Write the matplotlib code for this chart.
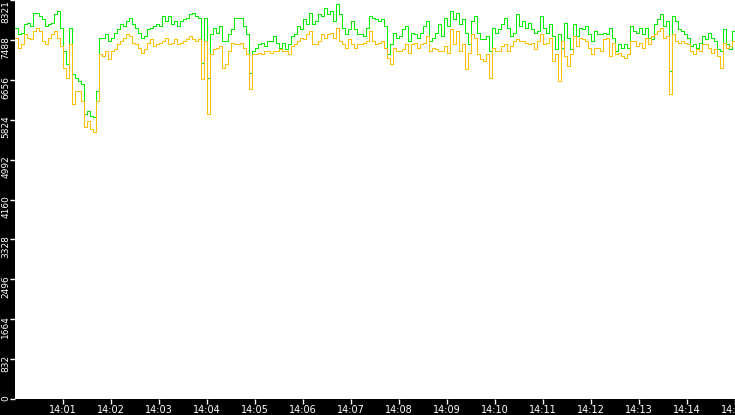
import matplotlib

matplotlib.use("Agg")
import matplotlib.pyplot as plt
import matplotlib.transforms as mtransforms
import numpy as np

# one sample every 3.75 s, 14:00:00 -> 14:15:00
STEP_S = 3.75

GREEN = [
    # 14:00 - 14:02
    7744, 7606, 7640, 7814, 7848, 7779, 8056, 8056, 7987, 7918,
    7779, 7814, 7848, 8022, 8091, 7744, 7259, 6982, 7744, 6774,
    6704, 6635, 6566, 5942, 6011, 5907, 5872, 6427, 7536, 7536,
    7606, 7467, 7536, 7640, 7710,
    # 14:02 - 14:04
    7814, 7779, 7883, 7952, 7814, 7744, 7640, 7536, 7571, 7710,
    7744, 7779, 7814, 7779, 7987, 7883, 7987, 7814, 7883, 7779,
    7883, 7918, 7952, 8022, 8056, 7987, 7952, 7016, 7952, 6704,
    7606, 7744, 7640, 7779, 7467,
    # 14:04 - 14:06
    7467, 7606, 7710, 7952, 7952, 7952, 7779, 7606, 6808, 7259,
    7328, 7398, 7432, 7363, 7467, 7467, 7571, 7432, 7328, 7432,
    7294, 7398, 7571, 7606, 7779, 7710, 7918, 7814, 8056, 7814,
    7883, 8022, 7987, 8160, 8022,
    # 14:06 - 14:08
    8091, 7883, 8230, 8022, 7744, 7606, 7710, 7883, 7710, 7606,
    7606, 7571, 7744, 7987, 7952, 7918, 7883, 7918, 7779, 7190,
    7398, 7640, 7536, 7571, 7710, 7779, 7467, 7640, 7606, 7536,
    7640, 7779, 7883, 7467, 7536,
    # 14:08 - 14:10
    7640, 7814, 7571, 7952, 7779, 8091, 7918, 8056, 7814, 7918,
    7640, 7398, 7883, 7987, 7640, 7502, 7502, 7571, 7259, 7744,
    7640, 7710, 7814, 7952, 7744, 7571, 7640, 8022, 7779, 7883,
    7744, 7848, 7710, 7640, 7675,
    # 14:10 - 14:12
    7987, 7744, 7640, 7814, 7571, 7294, 7606, 7328, 7848, 7536,
    7294, 7814, 7571, 7744, 7710, 7779, 7606, 7467, 7675, 7606,
    7606, 7640, 7606, 7744, 7536, 7259, 7398, 7328, 7398, 7328,
    7779, 7675, 7640, 7744, 7606,
    # 14:12 - 14:15
    7744, 7536, 7502, 7814, 7918, 8022, 7779, 7883, 6843, 7987,
    7883, 7710, 7675, 7606, 7536, 7363, 7398, 7328, 7432, 7571,
    7502, 7640, 7536, 7467, 7294, 7259, 7710, 7398, 7294, 7675,
    3850,
]

ORANGE = [
    7536, 7328, 7398, 7606, 7536, 7502, 7675, 7744, 7675, 7467,
    7398, 7536, 7606, 7675, 7536, 7363, 6912, 6704, 7398, 6150,
    6427, 6427, 6219, 5664, 5803, 5630, 5560, 6219, 7190, 7155,
    7259, 7086, 7259, 7294, 7398,
    7467, 7536, 7606, 7571, 7432, 7398, 7328, 7224, 7294, 7432,
    7502, 7363, 7398, 7432, 7467, 7536, 7398, 7432, 7502, 7398,
    7432, 7467, 7502, 7571, 7502, 7467, 7502, 6670, 7467, 5942,
    7190, 7294, 7328, 7363, 6912,
    6982, 7259, 7432, 7398, 7398, 7432, 7328, 7190, 6462, 7190,
    7190, 7224, 7190, 7259, 7259, 7224, 7259, 7259, 7294, 7259,
    7259, 7190, 7363, 7398, 7467, 7536, 7502, 7606, 7675, 7398,
    7398, 7467, 7606, 7536, 7606,
    7640, 7536, 7744, 7467, 7398, 7328, 7502, 7398, 7328, 7398,
    7398, 7432, 7467, 7675, 7467, 7398, 7432, 7467, 7328, 7120,
    6982, 7328, 7259, 7259, 7294, 7398, 7224, 7398, 7432, 7328,
    7398, 7432, 7571, 7259, 7328,
    7294, 7259, 7259, 7363, 7224, 7710, 7398, 7675, 7259, 7398,
    6878, 7224, 7606, 7536, 7190, 7086, 7051, 7190, 6704, 7328,
    7259, 7259, 7363, 7398, 7259, 7363, 7467, 7502, 7467, 7467,
    7432, 7398, 7432, 7294, 7467,
    7606, 7398, 7432, 7536, 7051, 7190, 6635, 7467, 7155, 6947,
    7190, 7571, 7363, 7536, 7502, 7467, 7328, 7190, 7328, 7328,
    7259, 7502, 7536, 7155, 7432, 7190, 7224, 7155, 7120, 7190,
    7467, 7467, 7363, 7432, 7328,
    7536, 7398, 7571, 7606, 7675, 7744, 7536, 7571, 6358, 7606,
    7467, 7432, 7467, 7432, 7398, 7259, 7190, 7294, 7259, 7398,
    7398, 7328, 7224, 7294, 7155, 6912, 7432, 7328, 7363, 7467,
    0,
]

Y_TICKS = [0, 832, 1664, 2496, 3328, 4160, 4992, 5824, 6656, 7488, 8321]
X_TICK_MIN = list(range(1, 16))
X_LABELS = [f"14:{m:02d}" for m in X_TICK_MIN]


def main():
    fig = plt.figure(figsize=(7.35, 4.15), dpi=100, facecolor="black")
    ax = fig.add_axes([15 / 735, 16 / 415, 720 / 735, 399 / 415])
    ax.set_facecolor("white")

    t = np.arange(len(GREEN)) * STEP_S
    ax.plot(t, GREEN, color="#00ee00", lw=0.6, drawstyle="steps-post", antialiased=False)
    ax.plot(t, ORANGE, color="#ffc000", lw=0.6, drawstyle="steps-post", antialiased=False)

    ax.set_xlim(0, 900.5)
    ax.set_ylim(0, 8321)
    for s in ax.spines.values():
        s.set_visible(False)

    ax.set_yticks(Y_TICKS)
    ax.set_yticklabels([str(v) for v in Y_TICKS], rotation=90, va="top")
    ax.set_xticks([m * 60 for m in X_TICK_MIN])
    ax.set_xticklabels(X_LABELS)
    ax.tick_params(colors="white", length=3.5, width=1)
    ax.tick_params(axis="x", labelsize=7, pad=1)
    ax.tick_params(axis="y", labelsize=6.5, pad=0)

    shift = mtransforms.ScaledTranslation(0, 0.04, fig.dpi_scale_trans)
    for lab in ax.get_yticklabels()[:-1]:
        lab.set_transform(lab.get_transform() + shift)

    fig.savefig("out.png", dpi=100, facecolor="black")
    plt.close(fig)


if __name__ == "__main__":
    main()
